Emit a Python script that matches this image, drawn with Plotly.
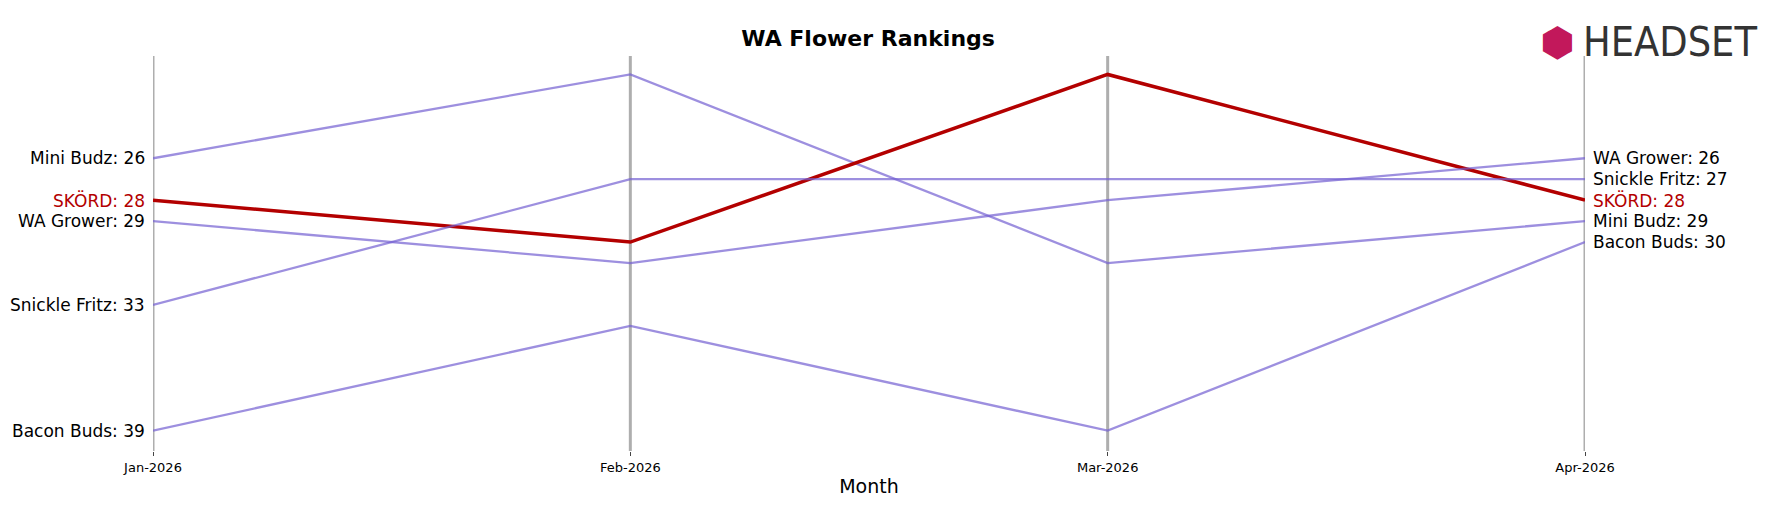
import plotly.graph_objects as go

months = ["Jan-2026", "Feb-2026", "Mar-2026", "Apr-2026"]
brands = ["Mini Budz", "SKÖRD", "WA Grower", "Snickle Fritz", "Bacon Buds"]
mini_budz = [26, 22, 31, 29]
skord = [28, 30, 22, 28]
wa_grower = [29, 31, 28, 26]
snickle_fritz = [33, 27, 27, 27]
bacon_buds = [39, 34, 39, 30]
ranks = [mini_budz, skord, wa_grower, snickle_fritz, bacon_buds]

PURPLE = "rgba(115,95,210,0.7)"
RED = "#b30000"
xs = list(range(len(months)))

fig = go.Figure()
for name, r in zip(brands, ranks):
    hl = name == "SKÖRD"
    fig.add_trace(go.Scatter(x=xs, y=r, mode="lines", name=name,
                             line=dict(color=RED if hl else PURPLE, width=3.5 if hl else 2.3)))
    # end labels
    fig.add_annotation(x=0, y=r[0], text=f"{name}: {r[0]}", xanchor="right", showarrow=False,
                       xshift=-6, font=dict(size=17, color=RED if hl else "black"))
    fig.add_annotation(x=3, y=r[-1], text=f"{name}: {r[-1]}", xanchor="left", showarrow=False,
                       xshift=6, font=dict(size=17, color=RED if hl else "black"))

for x in xs:
    fig.add_shape(type="line", x0=x, x1=x, y0=0, y1=1, xref="x", yref="paper",
                  line=dict(color="rgba(120,120,120,0.6)", width=3), layer="below")

# logo
fig.add_annotation(x=1.0, y=1.0, xref="paper", yref="paper", xanchor="left", yanchor="middle",
                   text="HEADSET", showarrow=False, xshift=-4, yshift=14,
                   font=dict(family="Liberation Sans Narrow, DejaVu Sans Condensed", size=41, color="#333"))
fig.add_annotation(x=1.0, y=1.0, xref="paper", yref="paper", xanchor="right", yanchor="middle",
                   text="⬢", showarrow=False, xshift=-8, yshift=14,
                   font=dict(size=40, color="#c2185b"))

fig.update_layout(
    width=1768, height=507,
    margin=dict(l=145, r=191, t=48, b=64),
    plot_bgcolor="white", paper_bgcolor="white",
    showlegend=False,
    font=dict(family="DejaVu Sans"),
    title=dict(text="<b>WA Flower Rankings</b>", x=0.4865, xanchor="center", y=0.955,
               font=dict(size=22, color="black")),
    xaxis=dict(range=[0, 3], tickvals=xs, ticktext=months, showgrid=False, zeroline=False,
               ticks="outside", ticklen=4, tickfont=dict(size=13, color="black"),
               title=dict(text="Month", font=dict(size=19, color="black"), standoff=6)),
    yaxis=dict(range=[39.97, 21.12], visible=False),
)

fig.write_html("out.html")
